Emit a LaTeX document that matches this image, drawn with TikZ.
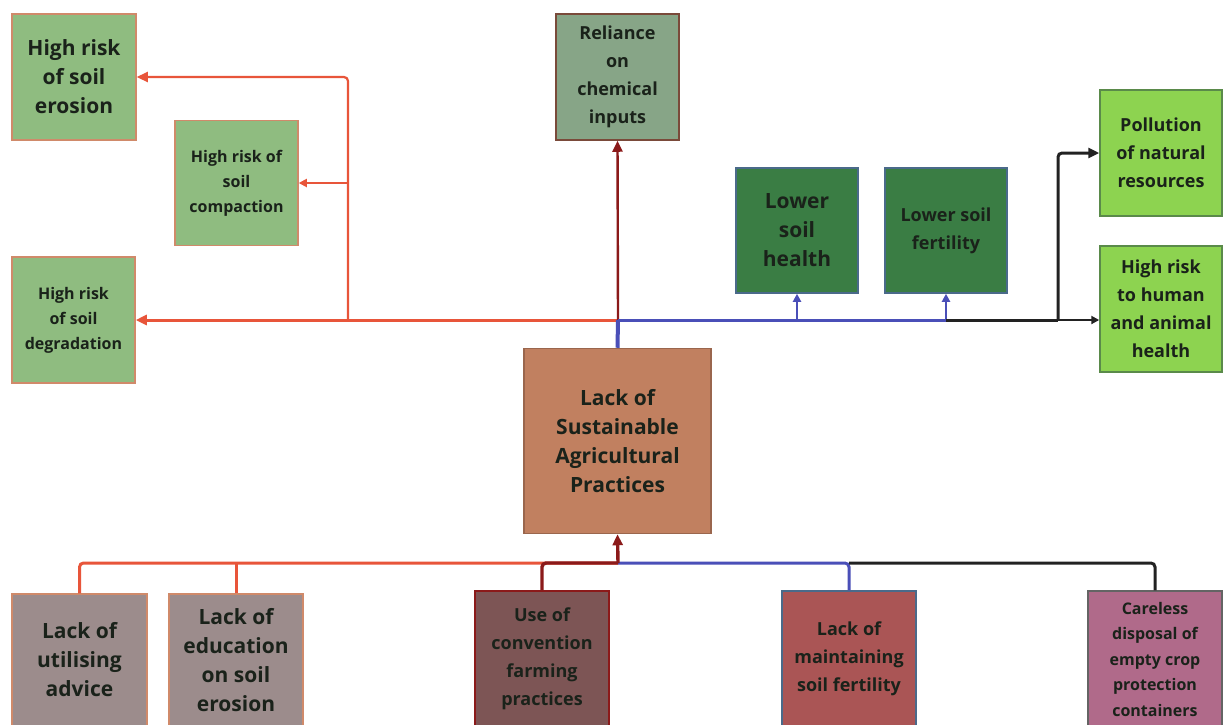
\documentclass[tikz,border=0pt]{standalone}
\usepackage{fontspec}
\setmainfont{Open Sans}
\usetikzlibrary{arrows.meta}
\definecolor{gA}{HTML}{8FBC80}
\definecolor{gR}{HTML}{87A587}
\definecolor{gD}{HTML}{3A7D44}
\definecolor{gL}{HTML}{8DD350}
\definecolor{cC}{HTML}{C18060}
\definecolor{cU}{HTML}{9C8C8C}
\definecolor{cV}{HTML}{7D5555}
\definecolor{cM}{HTML}{AA5555}
\definecolor{cK}{HTML}{B06A8A}
\definecolor{lnO}{HTML}{E8553A}
\definecolor{lnR}{HTML}{8B1A1A}
\definecolor{lnB}{HTML}{4A4FB8}
\definecolor{lnK}{HTML}{222222}
\definecolor{txt}{HTML}{1A221A}
\definecolor{bdO}{HTML}{D08A6A}
\definecolor{bdR}{HTML}{7A4A3A}
\definecolor{bdB}{HTML}{4A6A8A}
\definecolor{bdG}{HTML}{5A8A4A}
\tikzset{
  box/.style={draw, line width=1.5pt, rectangle, inner sep=0pt, align=center,
    text=txt, font=\bfseries},
  fsA/.style={font=\fontsize{21}{29}\selectfont\bfseries},
  fsB/.style={font=\fontsize{16}{25}\selectfont\bfseries},
  fsC/.style={font=\fontsize{18}{28}\selectfont\bfseries},
  fsD/.style={font=\fontsize{16}{25.5}\selectfont\bfseries},
  conn/.style={line width=3pt, rounded corners=4pt},
  arr/.style={-{Triangle[length=11pt,width=10pt]}},
  arrs/.style={-{Triangle[length=8pt,width=8pt]}},
}
\begin{document}
\begin{tikzpicture}[x=1pt,y=-1pt]
\clip (0,0) rectangle (1223,724);
\fill[white] (0,0) rectangle (1223,724);
% top-left boxes
\node[box, fsA, fill=gA, draw=bdO, minimum width=124pt, minimum height=126pt] (ero) at (74,77) {High risk\\of soil\\erosion};
\node[box, fsB, fill=gA, draw=bdO, minimum width=123pt, minimum height=125pt] (cmp) at (236.5,183) {High risk of\\soil\\compaction};
\node[box, fsB, fill=gA, draw=bdO, minimum width=123pt, minimum height=126pt] (deg) at (73.5,320) {High risk\\of soil\\degradation};
\node[box, fsC, fill=gR, draw=bdR, minimum width=123pt, minimum height=126pt] (rel) at (617.5,77) {Reliance\\on\\chemical\\inputs};
\node[box, fsA, fill=gD, draw=bdB, minimum width=122pt, minimum height=125pt] (lsh) at (797,230.5) {Lower\\soil\\health};
\node[box, fsC, fill=gD, draw=bdB, minimum width=122pt, minimum height=125pt] (lsf) at (946,230.5) {Lower soil\\fertility};
\node[box, fsC, fill=gL, draw=bdG, minimum width=122pt, minimum height=126pt] (pol) at (1161,153) {Pollution\\of natural\\resources};
\node[box, fsC, fill=gL, draw=bdG, minimum width=122pt, minimum height=126pt] (hr) at (1161,309) {High risk\\to human\\and animal\\health};
% center
\node[box, fsA, fill=cC, draw=cC!80!black, minimum width=187pt, minimum height=185pt] (ctr) at (617.5,441) {Lack of\\Sustainable\\Agricultural\\Practices};
% bottom
\node[box, fsA, fill=cU, draw=bdO, minimum width=135pt, minimum height=132pt] (util) at (79.5,660) {Lack of\\utilising\\advice};
\node[box, fsA, fill=cU, draw=bdO, minimum width=134pt, minimum height=132pt] (edu) at (236,660) {Lack of\\education\\on soil\\erosion};
\node[box, fsC, fill=cV, draw=lnR, minimum width=134pt, minimum height=136pt] (conv) at (542,659) {Use of\\convention\\farming\\practices};
\node[box, fsC, fill=cM, draw=bdB, minimum width=134pt, minimum height=136pt] (maint) at (849,659) {Lack of\\maintaining\\soil fertility};
\node[box, fsD, fill=cK, draw=lnK!70, minimum width=134pt, minimum height=136pt] (care) at (1155,659) {Careless\\disposal of\\empty crop\\protection\\containers};
% junctions
\coordinate (jt) at (618,320);
\coordinate (ob) at (348,320);
\coordinate (jf) at (946,320);
\coordinate (kb) at (1058,320);
\coordinate (jb) at (618,563);
% top connectors
\draw[conn, lnO, arr] (jt) -- (deg.east);
\draw[conn, lnO, line width=2.2pt, arr] (ob) |- (ero.east);
\draw[conn, lnO, line width=1.8pt, arrs] (ob |- cmp.east) -- (cmp.east);
\draw[conn, lnR, line width=2.4pt, arr] (jt) -- (rel.south);
\draw[conn, lnB, line width=4pt] (ctr.north) -- (jt);
\draw[conn, lnB] (jt) -- (jf);
\draw[conn, lnB, line width=2.2pt, arrs] (lsh.south |- jt) -- (lsh.south);
\draw[conn, lnB, line width=2.2pt, arrs] (jf) -- (lsf.south);
\draw[conn, lnK] (jf) -- (kb);
\draw[conn, lnK, arr] (kb) |- (pol.west);
\draw[conn, lnK, line width=2.4pt, arrs] (kb) -- (hr.west |- jt);
% bottom connectors
\draw[conn, lnO] (util.north) |- (jb);
\draw[conn, lnO] (edu.north) -- (edu.north |- jb);
\draw[conn, lnB] (jb) -| (maint.north);
\draw[conn, lnK] (maint.north |- jb) -| (care.north);
\draw[conn, lnR, line width=3.4pt] (conv.north) |- (jb);
\draw[conn, lnR, line width=3.4pt, arr] (jb) -- (ctr.south);
\end{tikzpicture}
\end{document}
